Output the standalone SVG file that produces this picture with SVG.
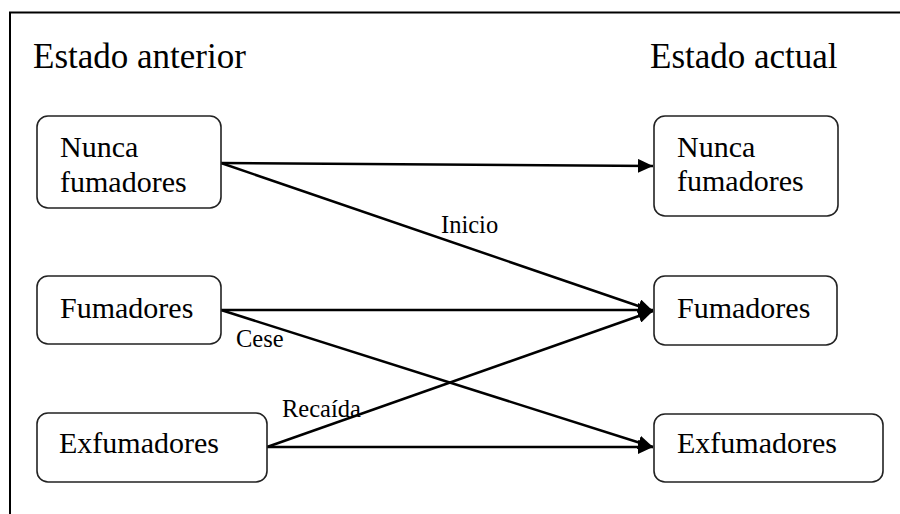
<svg xmlns="http://www.w3.org/2000/svg" width="900" height="514" viewBox="0 0 900 514">
  <style>
    .frame { fill: none; stroke: #000; stroke-width: 2; }
    .box { fill: #fff; stroke: #222; stroke-width: 1.6; }
    text { font-family: 'Liberation Serif', 'DejaVu Serif', serif; fill: #000; }
    .title { font-size: 35px; }
    .node { font-size: 30px; }
    .label { font-size: 24.5px; }
    .edge { fill: none; stroke: #000; stroke-width: 2.5; marker-end: url(#arrow); }
  </style>
  <defs>
    <marker id="arrow" markerUnits="userSpaceOnUse" markerWidth="16" markerHeight="14" refX="15" refY="7" orient="auto">
      <path d="M0,0 L15,7 L0,14 z" fill="#000"/>
    </marker>
  </defs>
  <rect width="900" height="514" fill="#fff"/>
  <path class="frame" d="M10,514 V12.5 H900"/>

  <text class="title" x="33" y="68">Estado anterior</text>
  <text class="title" x="650" y="68">Estado actual</text>

  <g id="connectors">
    <line class="edge" x1="221" y1="163" x2="653" y2="166"/>
    <line class="edge" x1="221" y1="163" x2="653" y2="311"/>
    <line class="edge" x1="221" y1="310" x2="653" y2="310"/>
    <line class="edge" x1="221" y1="310" x2="653" y2="447"/>
    <line class="edge" x1="267" y1="447" x2="653" y2="311"/>
    <line class="edge" x1="267" y1="447" x2="653" y2="447"/>
    <text class="label" x="441" y="233">Inicio</text>
    <text class="label" x="236" y="347">Cese</text>
    <text class="label" x="282" y="417">Recaída</text>
  </g>

  <g id="prev-nunca">
    <rect class="box" x="37" y="116" width="184" height="92" rx="11"/>
    <text class="node" x="60" y="157">Nunca</text>
    <text class="node" x="60" y="192">fumadores</text>
  </g>
  <g id="prev-fumadores">
    <rect class="box" x="37" y="276" width="184" height="68" rx="11"/>
    <text class="node" x="60" y="318">Fumadores</text>
  </g>
  <g id="prev-exfumadores">
    <rect class="box" x="37" y="413" width="230" height="69" rx="11"/>
    <text class="node" x="59" y="453">Exfumadores</text>
  </g>

  <g id="curr-nunca">
    <rect class="box" x="654" y="116" width="184" height="100" rx="11"/>
    <text class="node" x="677" y="157">Nunca</text>
    <text class="node" x="677" y="191">fumadores</text>
  </g>
  <g id="curr-fumadores">
    <rect class="box" x="654" y="276" width="183" height="69" rx="11"/>
    <text class="node" x="677" y="318">Fumadores</text>
  </g>
  <g id="curr-exfumadores">
    <rect class="box" x="654" y="414" width="229" height="68" rx="11"/>
    <text class="node" x="677" y="453">Exfumadores</text>
  </g>
</svg>
